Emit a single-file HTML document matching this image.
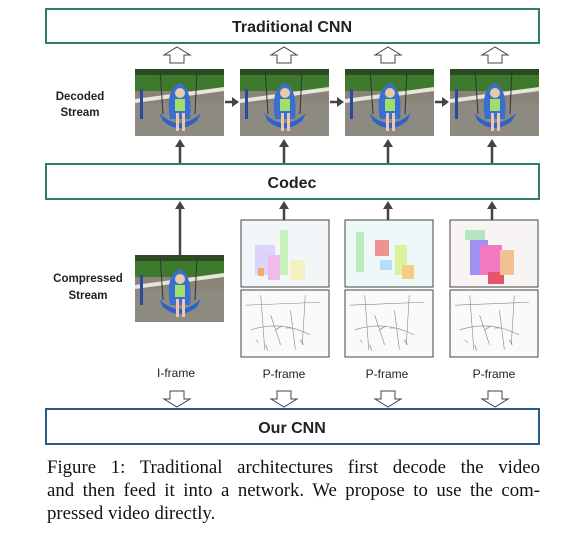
<!DOCTYPE html>
<html><head><meta charset="utf-8"><style>
body{margin:0;background:#fff;width:586px;height:550px;overflow:hidden;position:relative}
svg{position:absolute;left:0;top:0}
.cap{position:absolute;left:47px;width:493px;font-family:"Liberation Serif",serif;font-size:18.8px;color:#111;white-space:nowrap;line-height:22px}
.j{text-align:justify;text-align-last:justify}
</style></head><body>
<svg width="586" height="450" viewBox="0 0 586 450" font-family="Liberation Sans, sans-serif">
<defs>
<symbol id="ph" viewBox="0 0 89 67">
<rect width="89" height="67" fill="#8a8478"/>
<rect width="89" height="22" fill="#3d7a2e"/>
<rect y="0" width="89" height="6" fill="#2c4a22"/>
<polygon points="0,30 89,18 89,22 0,34" fill="#e8e6dc"/>
<rect y="34" width="89" height="33" fill="#8d8a82"/>
<rect x="5" y="20" width="3" height="30" fill="#2a4aa0"/>
<line x1="25" y1="0" x2="28" y2="45" stroke="#333" stroke-width="1"/>
<line x1="62" y1="0" x2="60" y2="45" stroke="#333" stroke-width="1"/>
<path d="M35 50 Q30 20 45 14 Q58 20 55 50 Z" fill="#3a6fd0"/>
<path d="M24 44 Q44 64 66 44 L62 52 Q44 66 28 52 Z" fill="#2d62c8"/>
<circle cx="45" cy="24" r="5" fill="#e8c9a8"/>
<rect x="40" y="30" width="10" height="12" fill="#9fe06a"/>
<rect x="41" y="44" width="3" height="18" fill="#eec6b0"/>
<rect x="47" y="44" width="3" height="18" fill="#eec6b0"/>
</symbol>
<symbol id="res" viewBox="0 0 89 67">
<rect width="89" height="67" fill="#fafafa"/>
<g stroke="#555" stroke-width="0.6" fill="none" opacity="0.7">
<path d="M5 15 L80 12 M20 5 L24 60 M65 5 L62 55 M10 40 Q40 30 70 45 M30 25 L40 55 M50 20 L55 60"/>
</g>
<g stroke="#3a6fd0" stroke-width="1" opacity="0.6"><path d="M35 40 l6 -4 M60 50 l3 5 M25 55 l2 6"/></g>
<g stroke="#c040c0" stroke-width="1" opacity="0.5"><path d="M45 38 l6 0 M15 50 l3 3"/></g>
</symbol>
</defs>
<g fill="#fff" stroke-width="2">
<rect x="46" y="9" width="493" height="34" stroke="#2e7d6e"/>
<rect x="46" y="164" width="493" height="35" stroke="#2e7d6e"/>
<rect x="46" y="409" width="493" height="35" stroke="#2a5a8a"/>
</g>
<g font-weight="bold" fill="#222" text-anchor="middle">
<text x="292" y="32" font-size="16">Traditional CNN</text>
<text x="292" y="188" font-size="16">Codec</text>
<text x="292" y="433" font-size="16">Our CNN</text>
<text x="80" y="100" font-size="11.5">Decoded</text>
<text x="80" y="116" font-size="11.5">Stream</text>
<text x="88" y="282" font-size="11.5">Compressed</text>
<text x="88" y="299" font-size="11.5">Stream</text>
</g>
<g fill="#222" font-size="12" text-anchor="middle">
<text x="176" y="377">I-frame</text>
<text x="284" y="378">P-frame</text>
<text x="387" y="378">P-frame</text>
<text x="494" y="378">P-frame</text>
</g>
<g fill="#fff" stroke="#444" stroke-width="1">
<path d="M170 63 v-8 h-6 l13 -8 l13 8 h-6 v8 z"/>
<path d="M277 63 v-8 h-6 l13 -8 l13 8 h-6 v8 z"/>
<path d="M381 63 v-8 h-6 l13 -8 l13 8 h-6 v8 z"/>
<path d="M488 63 v-8 h-6 l13 -8 l13 8 h-6 v8 z"/>
<path d="M170 391 v8 h-6 l13 8 l13 -8 h-6 v-8 z"/>
<path d="M277 391 v8 h-6 l13 8 l13 -8 h-6 v-8 z"/>
<path d="M381 391 v8 h-6 l13 8 l13 -8 h-6 v-8 z"/>
<path d="M488 391 v8 h-6 l13 8 l13 -8 h-6 v-8 z"/>
</g>
<use href="#ph" x="135" y="69" width="89" height="67"/>
<use href="#ph" x="240" y="69" width="89" height="67"/>
<use href="#ph" x="345" y="69" width="89" height="67"/>
<use href="#ph" x="450" y="69" width="89" height="67"/>
<use href="#ph" x="135" y="255" width="89" height="67"/>
<g stroke="#444" stroke-width="2.5" fill="#444">
<line x1="225" y1="102" x2="233" y2="102"/><path d="M232 97 l7 5 l-7 5z" stroke="none"/>
<line x1="330" y1="102" x2="338" y2="102"/><path d="M337 97 l7 5 l-7 5z" stroke="none"/>
<line x1="435" y1="102" x2="443" y2="102"/><path d="M442 97 l7 5 l-7 5z" stroke="none"/>
<line x1="180" y1="163" x2="180" y2="146"/><path d="M175 147 l5 -8 l5 8z" stroke="none"/>
<line x1="284" y1="163" x2="284" y2="146"/><path d="M279 147 l5 -8 l5 8z" stroke="none"/>
<line x1="388" y1="163" x2="388" y2="146"/><path d="M383 147 l5 -8 l5 8z" stroke="none"/>
<line x1="492" y1="163" x2="492" y2="146"/><path d="M487 147 l5 -8 l5 8z" stroke="none"/>
<line x1="180" y1="255" x2="180" y2="208"/><path d="M175 209 l5 -8 l5 8z" stroke="none"/>
<line x1="284" y1="220" x2="284" y2="208"/><path d="M279 209 l5 -8 l5 8z" stroke="none"/>
<line x1="388" y1="220" x2="388" y2="208"/><path d="M383 209 l5 -8 l5 8z" stroke="none"/>
<line x1="492" y1="220" x2="492" y2="208"/><path d="M487 209 l5 -8 l5 8z" stroke="none"/>
</g>
<g stroke="#444" stroke-width="1">
<rect x="241" y="220" width="88" height="67" fill="#f3f6f8"/>
<rect x="345" y="220" width="88" height="67" fill="#eef8f8"/>
<rect x="450" y="220" width="88" height="67" fill="#f8f4f4"/>
</g>
<g opacity="0.75">
<rect x="255" y="245" width="20" height="30" fill="#d8c8f8"/><rect x="268" y="255" width="12" height="25" fill="#f0a8e8"/>
<rect x="280" y="230" width="8" height="45" fill="#b8f0a8"/><rect x="290" y="260" width="15" height="20" fill="#f8f0b0"/>
<rect x="258" y="268" width="6" height="8" fill="#f09040"/>
<rect x="356" y="232" width="8" height="40" fill="#a8e8a8"/><rect x="375" y="240" width="14" height="16" fill="#f07070"/>
<rect x="395" y="245" width="12" height="30" fill="#d8f080"/><rect x="402" y="265" width="12" height="14" fill="#f8c060"/>
<rect x="380" y="260" width="12" height="10" fill="#a0d8f8"/>
<rect x="470" y="240" width="18" height="35" fill="#8070f0"/><rect x="480" y="245" width="22" height="30" fill="#f050b0"/>
<rect x="488" y="272" width="16" height="12" fill="#e02040"/><rect x="500" y="250" width="14" height="25" fill="#f0b070"/>
<rect x="465" y="230" width="20" height="10" fill="#a0e0b0"/>
</g>
<use href="#res" x="241" y="290" width="88" height="67"/>
<use href="#res" x="345" y="290" width="88" height="67"/>
<use href="#res" x="450" y="290" width="88" height="67"/>
<g fill="none" stroke="#444" stroke-width="1">
<rect x="241" y="290" width="88" height="67"/>
<rect x="345" y="290" width="88" height="67"/>
<rect x="450" y="290" width="88" height="67"/>
</g>
</svg>
<div class="cap j" style="top:457px">Figure 1: Traditional architectures first decode the video</div>
<div class="cap j" style="top:480px">and then feed it into a network. We propose to use the com-</div>
<div class="cap" style="top:503px">pressed video directly.</div>
</body></html>
